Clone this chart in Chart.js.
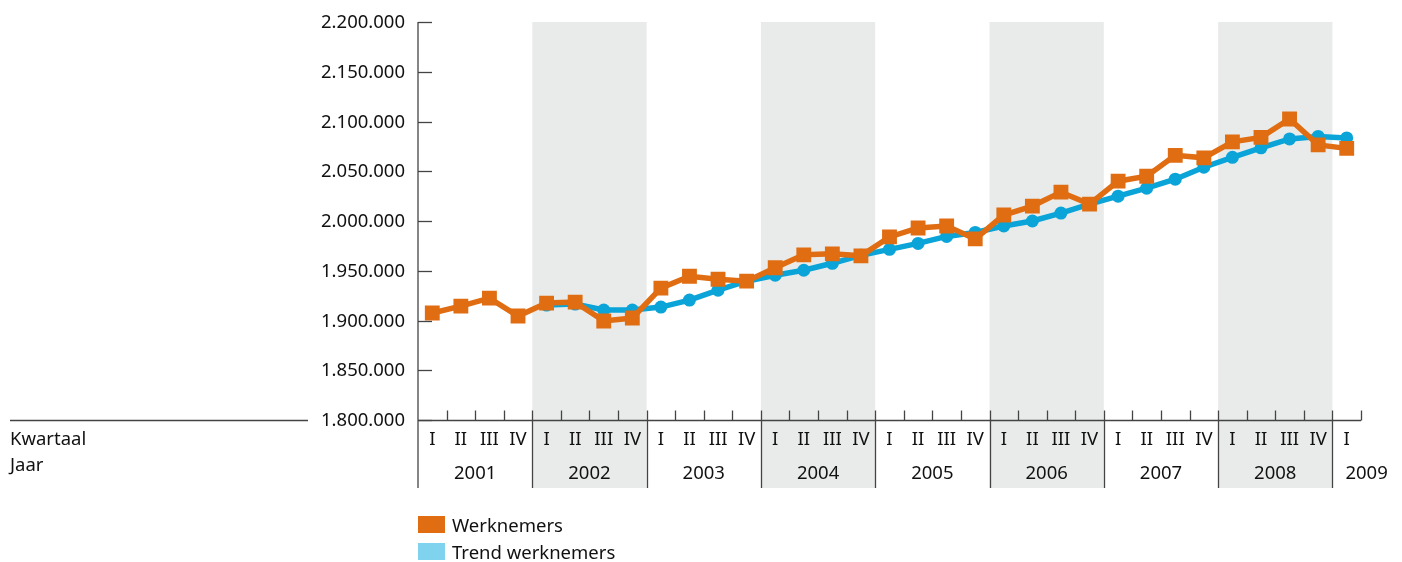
<!DOCTYPE html>
<html>
<head>
<meta charset="utf-8">
<script src="https://cdn.jsdelivr.net/npm/chart.js@4"></script>
<style>
  body { margin:0; background:#fff; font-family:"Noto Sans", sans-serif; }
  #wrap { position:relative; width:1402px; height:562px; }
  canvas { position:absolute; left:0; top:0; }
  .lg { position:absolute; left:418px; font-size:18.5px; color:#111; display:flex; align-items:center; }
  .lg i { display:inline-block; width:27px; height:17px; margin-right:7px; }
</style>
</head>
<body>
<div id="wrap">
  <canvas id="ch" width="1402" height="562"></canvas>
  <div class="lg" style="top:512px"><i style="background:#e06d12"></i>Werknemers</div>
  <div class="lg" style="top:539px"><i style="background:#80d3ee"></i>Trend werknemers</div>
</div>
<script>
// quarters 2001 I .. 2009 I
const years = ['2001','2002','2003','2004','2005','2006','2007','2008','2009'];
const quarterNames = ['I','II','III','IV'];
const quarters = [];
years.forEach(y => quarterNames.forEach(q => { if (y !== '2009' || q === 'I') quarters.push(q + ' ' + y); }));

// Werknemers (werkelijk)
const werknemers = [
  1907500, 1914500, 1922500, 1904500,
  1917500, 1918500, 1899500, 1902500,
  1932500, 1944500, 1941500, 1939500,
  1953000, 1966000, 1967000, 1965000,
  1984000, 1993000, 1995000, 1982000,
  2006000, 2015000, 2029000, 2017000,
  2040000, 2045000, 2066000, 2063500,
  2079500, 2084000, 2102500, 2076500,
  2073000
];
// Trend werknemers (vanaf 2002 I)
const trend = [
  null, null, null, null,
  1915500, 1916500, 1910500, 1910500,
  1913500, 1920500, 1930500, 1939500,
  1945500, 1950500, 1957500, 1965500,
  1971500, 1977500, 1984500, 1988500,
  1995000, 2000000, 2008000, 2017000,
  2025000, 2033000, 2042000, 2054000,
  2064000, 2073500, 2082500, 2085000,
  2083500
];
const yTicks = [1800000, 1850000, 1900000, 1950000, 2000000, 2050000, 2100000, 2150000, 2200000];
const shadedYears = ['2002', '2004', '2006', '2008'];

const ORANGE = '#e06d12';
const BLUE = '#0aa4d8';
const AXIS = '#444';
const BAND = '#e9ebea';
const FONT = '18.5px "Noto Sans", sans-serif';

const fmt = v => String(v).replace(/\B(?=(\d{3})+(?!\d))/g, '.');

const frame = {
  id: 'frame',
  beforeDatasetsDraw(chart) {
    const { ctx, chartArea: a, scales: { x } } = chart;
    const slot = (a.right - a.left) / quarters.length;
    ctx.save();
    ctx.fillStyle = BAND;
    years.forEach((y, k) => {
      if (!shadedYears.includes(y)) return;
      const x0 = x.getPixelForValue(k * 4) - slot / 2;
      ctx.fillRect(x0, a.top, slot * 4, 488 - a.top);
    });
    ctx.restore();
  },
  afterDraw(chart) {
    const { ctx, chartArea: a, scales: { x, y } } = chart;
    const slot = (a.right - a.left) / quarters.length;
    ctx.save();
    ctx.strokeStyle = AXIS;
    ctx.lineWidth = 1.3;
    ctx.fillStyle = '#111';
    ctx.font = FONT;

    // y axis
    ctx.beginPath();
    ctx.moveTo(a.left, a.top); ctx.lineTo(a.left, 488);
    ctx.stroke();
    ctx.textAlign = 'right'; ctx.textBaseline = 'middle';
    yTicks.forEach(v => {
      const py = Math.round(y.getPixelForValue(v)) + 0.5;
      ctx.beginPath(); ctx.moveTo(a.left, py); ctx.lineTo(a.left + 14, py); ctx.stroke();
      ctx.fillText(fmt(v), a.left - 13, py);
    });

    // x axis + left separator line
    const base = Math.round(a.bottom) + 0.5;
    ctx.beginPath();
    ctx.moveTo(a.left, base); ctx.lineTo(a.right, base);
    ctx.moveTo(10, base); ctx.lineTo(308, base);
    ctx.stroke();

    // quarter ticks + year separators
    quarters.forEach((q, i) => {
      const bx = Math.round(x.getPixelForValue(i) + slot / 2) + 0.5;
      ctx.beginPath(); ctx.moveTo(bx, base); ctx.lineTo(bx, base - 10); ctx.stroke();
      if ((i + 1) % 4 === 0 && i < quarters.length - 1) {
        ctx.beginPath(); ctx.moveTo(bx, base); ctx.lineTo(bx, 488); ctx.stroke();
      }
    });

    // labels
    ctx.textAlign = 'center';
    quarters.forEach((q, i) => ctx.fillText(q.split(' ')[0], x.getPixelForValue(i), 440));
    years.forEach((yr, k) => {
      const x0 = x.getPixelForValue(k * 4) - slot / 2;
      if (yr === '2009') { ctx.textAlign = 'left'; ctx.fillText(yr, x0 + 13, 474); }
      else { ctx.textAlign = 'center'; ctx.fillText(yr, x0 + slot * 2, 474); }
    });
    ctx.textAlign = 'left';
    ctx.fillText('Kwartaal', 10, 440);
    ctx.fillText('Jaar', 10, 466);
    ctx.restore();
  }
};

new Chart(document.getElementById('ch'), {
  type: 'line',
  data: {
    labels: quarters,
    datasets: [
      { label: 'Werknemers', data: werknemers, borderColor: ORANGE, backgroundColor: ORANGE,
        borderWidth: 5.5, pointStyle: 'rect', pointRadius: 10.5, pointBorderWidth: 0, tension: 0 },
      { label: 'Trend werknemers', data: trend, borderColor: BLUE, backgroundColor: BLUE,
        borderWidth: 5.5, pointStyle: 'circle', pointRadius: 6.5, pointBorderWidth: 0, tension: 0 }
    ]
  },
  options: {
    responsive: false, animation: false, devicePixelRatio: 1,
    layout: { padding: { left: 418, right: 41, top: 22, bottom: 142 } },
    plugins: { legend: { display: false }, tooltip: { enabled: false } },
    scales: {
      x: { type: 'category', offset: true, display: false },
      y: { min: 1800000, max: 2200000, display: false }
    }
  },
  plugins: [frame]
});
</script>
</body>
</html>
